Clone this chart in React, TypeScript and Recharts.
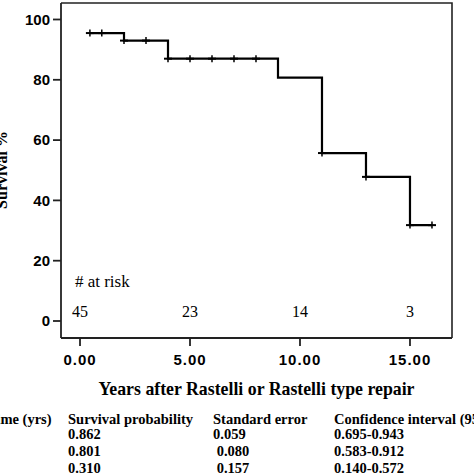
import React from 'react';
import { ComposedChart, Line, Scatter, XAxis, YAxis } from 'recharts';

const stepTimes = [0.45, 2.0, 4.0, 9.0, 11.0, 13.0, 15.0, 16.0];
const stepSurvival = [95.5, 93.0, 87.0, 80.7, 55.7, 47.8, 31.8, 31.8];
const censorTimes = [0.45, 0.99, 2.0, 3.0, 4.0, 5.0, 6.0, 7.0, 8.0, 11.0, 13.0, 15.0, 16.0];
const censorSurvival = [95.5, 95.5, 93.0, 93.0, 87.0, 87.0, 87.0, 87.0, 87.0, 55.7, 47.8, 31.8, 31.8];
const riskTimes = [0, 5, 10, 15];
const riskCounts = [45, 23, 14, 3];
const riskTitle = '# at risk';
const yTicks = [0, 20, 40, 60, 80, 100];
const xTicks = [0, 5, 10, 15];
const xTitle = 'Years after Rastelli or Rastelli type repair';
const yTitle = 'Survival %';
const tableHeaders = ['Time (yrs)', 'Survival probability', 'Standard error', 'Confidence interval (95% CI)'];
const survivalProb = ['0.862', '0.801', '0.310'];
const stdError = ['0.059', ' 0.080', ' 0.157'];
const confInterval = ['0.695-0.943', '0.583-0.912', '0.140-0.572'];

const xDomain = [-0.864, 16.91];
const yDomain = [-5.64, 105.47];

const stepData = stepTimes.map((x, i) => ({ x, s: stepSurvival[i] }));
const censorData = censorTimes.map((x, i) => ({ x, y: censorSurvival[i] }));
const riskData = riskTimes.map((x, i) => ({ x, y: 3, n: riskCounts[i] }));
const riskTitleData = [{ x: -0.23, y: 13, n: riskTitle }];
const cornerData = [{ x: xDomain[1], y: yDomain[1] }];

const MARGIN = { top: 3, right: 22, left: 0, bottom: 66 };
const CHART_W = 474;
const CHART_H = 474;
const Y_AXIS_W = 61;
const X_AXIS_H = 70;
const PLOT_W = CHART_W - MARGIN.left - MARGIN.right - Y_AXIS_W;
const PLOT_H = CHART_H - MARGIN.top - MARGIN.bottom - X_AXIS_H;

const PlusShape = (props: any) => {
  const { cx, cy } = props;
  return (
    <g>
      <line x1={cx - 4} y1={cy} x2={cx + 4} y2={cy} stroke="#000" strokeWidth={2} />
      <line x1={cx} y1={cy - 3.5} x2={cx} y2={cy + 3.5} stroke="#000" strokeWidth={1.5} />
    </g>
  );
};

// top and right edges of the plot frame, drawn from the top-right corner
const FrameShape = (props: any) => {
  const { cx, cy } = props;
  return (
    <path d={`M${cx - PLOT_W},${cy}L${cx},${cy}L${cx},${cy + PLOT_H}`}
      fill="none" stroke="#222" strokeWidth={1.6} />
  );
};

const RiskText = (props: any) => (
  <text x={props.cx} y={props.cy} textAnchor="middle" dominantBaseline="central"
    fontFamily="Liberation Serif" fontSize={16} fill="#000">{props.payload.n}</text>
);

const RiskTitle = (props: any) => (
  <text x={props.cx} y={props.cy} textAnchor="start" dominantBaseline="central"
    fontFamily="Liberation Serif" fontSize={17} fill="#000">{props.payload.n}</text>
);

const serifBold: React.CSSProperties = {
  position: 'absolute', fontFamily: 'Liberation Serif', fontWeight: 'bold', fontSize: 14.5,
  lineHeight: '14px', whiteSpace: 'pre', color: '#000',
};

const colX = [-13, 68, 213, 334];
const rowTop = [427, 444, 461];

export default function App() {
  return (
    <div style={{ position: 'absolute', left: 0, top: 0, width: 474, height: 474, overflow: 'hidden', background: '#fff' }}>
      <ComposedChart width={CHART_W} height={CHART_H} margin={MARGIN}>
        <XAxis dataKey="x" type="number" domain={xDomain} ticks={xTicks}
          tickFormatter={(v: number) => v.toFixed(2)} height={X_AXIS_H} tickSize={8} tickMargin={8}
          axisLine={{ stroke: '#222', strokeWidth: 1.8 }} tickLine={{ stroke: '#222', strokeWidth: 1.8 }}
          tick={{ fill: '#000', fontFamily: 'Liberation Sans', fontWeight: 'bold', fontSize: 15, letterSpacing: 1 }}
          label={(p: any) => {
            const vb = p.viewBox || {};
            return (
              <text x={vb.x + vb.width / 2} y={vb.y + 57} textAnchor="middle"
                fontFamily="Liberation Serif" fontWeight="bold" fontSize={17.8} fill="#000">{xTitle}</text>
            );
          }} />
        <YAxis type="number" domain={yDomain} ticks={yTicks} width={Y_AXIS_W}
          tickSize={8} tickMargin={3}
          axisLine={{ stroke: '#222', strokeWidth: 1.8 }} tickLine={{ stroke: '#222', strokeWidth: 1.8 }}
          tick={{ fill: '#000', fontFamily: 'Liberation Sans', fontWeight: 'bold', fontSize: 15 }}
          label={() => (
            <text x={7} y={170} transform="rotate(-90 7 170)" textAnchor="middle"
              fontFamily="Liberation Serif" fontWeight="bold" fontSize={16} fill="#000">{yTitle}</text>
          )} />
        <Scatter data={cornerData} dataKey="y" shape={FrameShape} isAnimationActive={false} />
        <Line data={stepData} dataKey="s" type="stepAfter" stroke="#000" strokeWidth={2.2}
          dot={false} activeDot={false} isAnimationActive={false} />
        <Scatter data={censorData} dataKey="y" shape={PlusShape} isAnimationActive={false} />
        <Scatter data={riskData} dataKey="y" shape={RiskText} isAnimationActive={false} />
        <Scatter data={riskTitleData} dataKey="y" shape={RiskTitle} isAnimationActive={false} />
      </ComposedChart>
      <div style={{ ...serifBold, left: colX[0], top: 412 }}>{tableHeaders[0]}</div>
      <div style={{ ...serifBold, left: colX[1], top: 412 }}>{tableHeaders[1]}</div>
      <div style={{ ...serifBold, left: colX[2], top: 412 }}>{tableHeaders[2]}</div>
      <div style={{ ...serifBold, left: colX[3], top: 412 }}>{tableHeaders[3]}</div>
      {survivalProb.map((v, i) => (
        <div key={'s' + i} style={{ ...serifBold, left: colX[1], top: rowTop[i] }}>{v}</div>
      ))}
      {stdError.map((v, i) => (
        <div key={'e' + i} style={{ ...serifBold, left: colX[2], top: rowTop[i] }}>{v}</div>
      ))}
      {confInterval.map((v, i) => (
        <div key={'c' + i} style={{ ...serifBold, left: colX[3], top: rowTop[i] }}>{v}</div>
      ))}
    </div>
  );
}
